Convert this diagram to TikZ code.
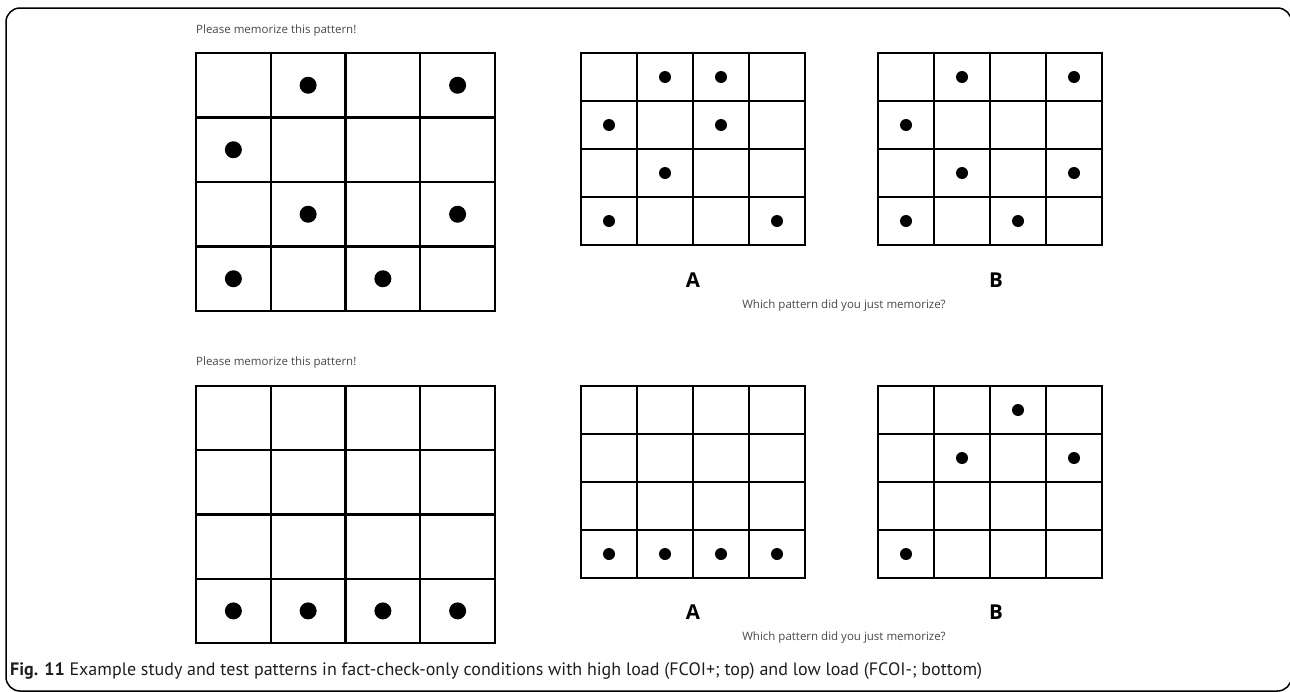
\documentclass[tikz,border=0pt]{standalone}
\usepackage{fontspec}
\setmainfont{Open Sans}
\newfontfamily\capfont{PT Sans}
\newcommand\patgrid[5]{%
  \draw[line width=#5] (#1,#2) rectangle ({#1+4*#3},{#2+4*#4});
  \foreach \kk in {1,2,3} {
    \draw[line width=#5] ({#1+\kk*#3},#2) -- ({#1+\kk*#3},{#2+4*#4});
    \draw[line width=#5] (#1,{#2+\kk*#4}) -- ({#1+4*#3},{#2+\kk*#4});
  }}
\newcommand\patdots[6]{%
  \foreach \rr/\cc in {#6} \fill ({#1+(\cc+0.5)*#3},{#2+(\rr+0.5)*#4}) circle[radius=#5pt];}
\begin{document}
\begin{tikzpicture}[x=1pt,y=-1pt,
  prompt/.style={text=black!72, font=\fontsize{11.5}{13}\selectfont, inner sep=0},
  choice/.style={text=black, font=\fontsize{20.5}{24}\selectfont\bfseries, inner sep=0},
  frame/.style={line width=1.5pt, rounded corners=14pt}]
\useasboundingbox (0,0) rectangle (1290,691);
\draw[frame] (6,8) rectangle (1291.5,691);
% top row
\patgrid{196}{53}{74.75}{64.5}{2.2pt}
\patdots{196}{53}{74.75}{64.5}{8.5}{0/1,0/3,1/0,2/1,2/3,3/0,3/2}
\patgrid{581}{53}{56}{48}{1.8pt}
\patdots{581}{53}{56}{48}{6}{0/1,0/2,1/0,1/2,2/1,3/0,3/3}
\patgrid{878}{53}{56}{48}{1.8pt}
\patdots{878}{53}{56}{48}{6}{0/1,0/3,1/0,2/1,2/3,3/0,3/2}
% bottom row
\patgrid{196}{386}{74.75}{64.25}{2.2pt}
\patdots{196}{386}{74.75}{64.25}{8.5}{3/0,3/1,3/2,3/3}
\patgrid{581}{386}{56}{48}{1.8pt}
\patdots{581}{386}{56}{48}{6}{3/0,3/1,3/2,3/3}
\patgrid{878}{386}{56}{48}{1.8pt}
\patdots{878}{386}{56}{48}{6}{0/2,1/1,1/3,3/0}
% texts
\node[prompt, anchor=west] (p1) at (196,31) {Please memorize this pattern!};
\node[prompt, anchor=west] (p2) at (196,363) {Please memorize this pattern!};
\node[prompt] (q1) at (844,306) {Which pattern did you just memorize?};
\node[prompt] (q2) at (844,638) {Which pattern did you just memorize?};
\node[choice] (a1) at (693,280) {A};
\node[choice] (b1) at (996,280) {B};
\node[choice] (a2) at (693,612) {A};
\node[choice] (b2) at (996,612) {B};
\node[anchor=base west, inner sep=0, text=black!88] (cap) at (10,675)
  {\capfont\fontsize{18}{21}\selectfont\textbf{Fig. 11} Example study and test patterns in fact-check-only conditions with high load (FCOI+; top) and low load (FCOI-; bottom)};
\end{tikzpicture}
\end{document}
